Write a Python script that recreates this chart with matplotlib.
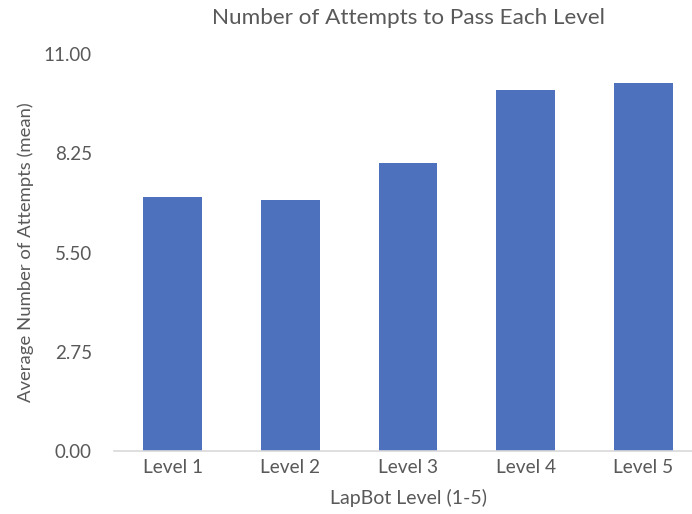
import matplotlib
matplotlib.use("Agg")
import matplotlib.pyplot as plt

levels = ["Level 1", "Level 2", "Level 3", "Level 4", "Level 5"]
mean_attempts = [7.03, 6.95, 7.99, 10.0, 10.21]
y_ticks = [0.0, 2.75, 5.5, 8.25, 11.0]
y_tick_labels = ["0.00", "2.75", "5.50", "8.25", "11.00"]

text_color = "#595959"
bar_color = "#4E71BE"
axis_color = "#D9D9D9"

plt.rcParams["font.family"] = ["Lato", "DejaVu Sans"]

fig = plt.figure(figsize=(6.92, 5.14), dpi=100)
ax = fig.add_axes([114 / 692, 1 - 451 / 514, 588 / 692, (451 - 54) / 514])

x = range(len(levels))
ax.bar(x, mean_attempts, width=0.5, color=bar_color, zorder=2)

ax.set_xlim(-0.5, len(levels) - 0.5)
ax.set_ylim(0, 11)
ax.set_yticks(y_ticks)
ax.set_yticklabels(y_tick_labels)
ax.set_xticks(list(x))
ax.set_xticklabels(levels)

for side in ["top", "right", "left"]:
    ax.spines[side].set_visible(False)
ax.spines["bottom"].set_color(axis_color)
ax.spines["bottom"].set_linewidth(1.2)

ax.tick_params(axis="y", length=0, pad=16, labelsize=13.5, labelcolor=text_color)
ax.tick_params(axis="x", length=0, pad=6, labelsize=13.8, labelcolor=text_color)

ax.set_xlabel("LapBot Level (1-5)", fontsize=14, color=text_color, labelpad=9)
ax.set_ylabel("Average Number of Attempts (mean)", fontsize=13.3, color=text_color, labelpad=7)

fig.text(409 / 692, 1 - 18 / 514, "Number of Attempts to Pass Each Level",
         ha="center", va="center", fontsize=16.2, color=text_color)

fig.savefig("out.png", dpi=100, facecolor="white")
